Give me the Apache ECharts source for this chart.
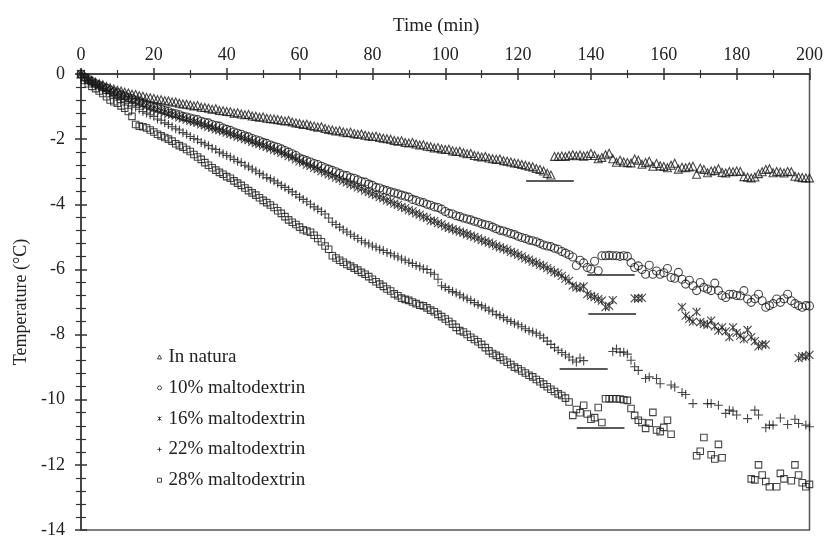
<!DOCTYPE html>
<html><head><meta charset="utf-8">
<script src="https://cdn.jsdelivr.net/npm/echarts@6/dist/echarts.min.js"></script>
<style>html,body{margin:0;padding:0;background:#fff}#c{width:826px;height:539px}</style>
</head><body><div id="c"></div>
<script>
const seriesNames = ['In natura','10% maltodextrin','16% maltodextrin','22% maltodextrin','28% maltodextrin'];

const time = [
0,1,2,3,4,5,6,7,8,9,10,11,12,13,14,15,16,17,18,19,
20,21,22,23,24,25,26,27,28,29,30,31,32,33,34,35,36,37,38,39,
40,41,42,43,44,45,46,47,48,49,50,51,52,53,54,55,56,57,58,59,
60,61,62,63,64,65,66,67,68,69,70,71,72,73,74,75,76,77,78,79,
80,81,82,83,84,85,86,87,88,89,90,91,92,93,94,95,96,97,98,99,
100,101,102,103,104,105,106,107,108,109,110,111,112,113,114,115,116,117,118,119,
120,121,122,123,124,125,126,127,128,129,130,131,132,133,134,135,136,137,138,139,
140,141,142,143,144,145,146,147,148,149,150,151,152,153,154,155,156,157,158,159,
160,161,162,163,164,165,166,167,168,169,170,171,172,173,174,175,176,177,178,179,
180,181,182,183,184,185,186,187,188,189,190,191,192,193,194,195,196,197,198,199,
200];

const inNatura = [
0,-0.08,-0.15,-0.2,-0.25,-0.3,-0.33,-0.38,-0.42,-0.46,
-0.5,-0.52,-0.56,-0.58,-0.62,-0.63,-0.67,-0.68,-0.72,-0.73,
-0.75,-0.78,-0.79,-0.82,-0.83,-0.86,-0.86,-0.9,-0.92,-0.93,
-0.95,-0.98,-0.97,-1.02,-1.03,-1.05,-1.08,-1.07,-1.12,-1.13,
-1.15,-1.16,-1.2,-1.19,-1.23,-1.25,-1.24,-1.29,-1.3,-1.33,
-1.32,-1.36,-1.37,-1.38,-1.4,-1.42,-1.44,-1.43,-1.47,-1.5,
-1.52,-1.55,-1.54,-1.58,-1.6,-1.63,-1.62,-1.67,-1.7,-1.72,
-1.75,-1.74,-1.78,-1.8,-1.79,-1.83,-1.85,-1.84,-1.88,-1.9,
-1.92,-1.91,-1.95,-1.97,-1.99,-2.0,-2.04,-2.06,-2.05,-2.1,
-2.12,-2.1,-2.15,-2.18,-2.17,-2.22,-2.23,-2.27,-2.26,-2.3,
-2.32,-2.31,-2.36,-2.38,-2.37,-2.42,-2.45,-2.44,-2.5,-2.52,
-2.55,-2.53,-2.58,-2.6,-2.62,-2.61,-2.66,-2.68,-2.7,-2.73,
-2.75,-2.78,-2.8,-2.83,-2.85,-2.9,-2.93,-2.98,-3.05,-3.1,
-2.53,-2.53,-2.52,-2.53,-2.5,-2.48,-2.51,-2.49,-2.52,-2.5,
-2.44,-2.5,-2.6,-2.56,-2.48,-2.43,-2.6,-2.71,-2.65,-2.7,
-2.72,-2.73,-2.61,-2.65,-2.77,-2.72,-2.68,-2.83,-2.75,-2.82,
-2.84,-2.88,-2.8,-2.74,-2.92,-2.86,-2.88,-2.85,-2.83,-3.08,
-2.89,-2.93,-3.03,-2.98,-2.96,-2.91,-3.02,-3.04,-2.99,-3.0,
-2.98,-2.99,-3.15,-3.17,-3.19,-3.16,-3.06,-3.0,-2.93,-2.91,
-3.03,-2.99,-3.01,-3.04,-2.99,-3.0,-3.14,-3.16,-3.18,-3.19,
-3.19];

const malto10 = [
0,-0.1,-0.17,-0.23,-0.3,-0.35,-0.4,-0.44,-0.5,-0.55,
-0.58,-0.64,-0.68,-0.72,-0.76,-0.8,-0.84,-0.88,-0.93,-0.98,
-1.02,-1.05,-1.08,-1.12,-1.15,-1.2,-1.22,-1.25,-1.3,-1.32,
-1.35,-1.38,-1.4,-1.45,-1.48,-1.5,-1.55,-1.58,-1.6,-1.66,
-1.7,-1.73,-1.78,-1.82,-1.85,-1.9,-1.93,-1.98,-2.02,-2.05,
-2.1,-2.13,-2.18,-2.22,-2.25,-2.3,-2.35,-2.4,-2.45,-2.5,
-2.58,-2.62,-2.66,-2.7,-2.75,-2.78,-2.83,-2.88,-2.92,-2.96,
-3.0,-3.05,-3.1,-3.12,-3.18,-3.2,-3.25,-3.3,-3.32,-3.38,
-3.42,-3.48,-3.5,-3.55,-3.58,-3.62,-3.65,-3.68,-3.72,-3.75,
-3.78,-3.85,-3.88,-3.92,-3.95,-4.0,-4.03,-4.08,-4.1,-4.15,
-4.22,-4.28,-4.3,-4.35,-4.38,-4.42,-4.45,-4.48,-4.52,-4.55,
-4.6,-4.63,-4.65,-4.7,-4.75,-4.8,-4.82,-4.86,-4.9,-4.93,
-4.98,-5.02,-5.05,-5.1,-5.12,-5.15,-5.2,-5.25,-5.28,-5.3,
-5.35,-5.38,-5.45,-5.5,-5.55,-5.62,-5.88,-5.72,-5.8,-5.94,
-5.99,-5.75,-6.04,-5.58,-5.58,-5.57,-5.58,-5.58,-5.6,-5.58,
-5.6,-5.79,-5.94,-5.89,-6.0,-6.15,-5.87,-6.15,-6.05,-6.15,
-6.1,-5.97,-6.25,-6.27,-6.09,-6.3,-6.45,-6.33,-6.5,-6.65,
-6.4,-6.55,-6.6,-6.65,-6.42,-6.65,-6.8,-6.86,-6.76,-6.76,
-6.8,-6.81,-6.65,-6.91,-7.01,-6.9,-6.76,-6.96,-7.16,-7.11,
-7.05,-6.91,-7.01,-6.9,-6.76,-6.96,-7.05,-7.11,-7.16,-7.11,
-7.12];

const malto16 = [
0,-0.1,-0.18,-0.25,-0.3,-0.36,-0.42,-0.46,-0.52,-0.57,
-0.62,-0.66,-0.7,-0.74,-0.8,-0.84,-0.88,-0.93,-0.97,-1.02,
-1.06,-1.1,-1.14,-1.18,-1.22,-1.25,-1.28,-1.33,-1.36,-1.4,
-1.44,-1.47,-1.5,-1.55,-1.58,-1.62,-1.65,-1.7,-1.72,-1.76,
-1.8,-1.84,-1.88,-1.92,-1.95,-2.0,-2.03,-2.08,-2.12,-2.15,
-2.2,-2.24,-2.28,-2.33,-2.37,-2.42,-2.46,-2.52,-2.56,-2.62,
-2.68,-2.72,-2.78,-2.82,-2.88,-2.92,-2.98,-3.03,-3.08,-3.12,
-3.18,-3.22,-3.28,-3.33,-3.38,-3.42,-3.48,-3.52,-3.58,-3.63,
-3.68,-3.72,-3.78,-3.82,-3.88,-3.92,-3.98,-4.02,-4.08,-4.12,
-4.18,-4.22,-4.28,-4.32,-4.38,-4.42,-4.5,-4.52,-4.58,-4.62,
-4.68,-4.72,-4.76,-4.8,-4.84,-4.88,-4.92,-4.96,-5.0,-5.05,
-5.1,-5.14,-5.18,-5.22,-5.28,-5.32,-5.36,-5.4,-5.46,-5.5,
-5.55,-5.6,-5.66,-5.7,-5.76,-5.8,-5.86,-5.9,-5.96,-6.02,
-6.08,-6.12,-6.2,-6.28,-6.35,-6.5,-6.55,-6.58,-6.52,-6.76,
-6.81,-6.85,-6.91,-6.96,-7.16,-7.12,-6.94,null,null,null,
null,null,-6.89,-6.89,-6.87,null,null,null,null,null,
null,null,null,null,null,-7.16,-7.42,-7.52,-7.6,-7.3,
-7.62,-7.67,-7.7,-7.57,-7.75,-7.88,-7.78,-7.9,-8.08,-7.78,
-7.95,-8.03,-8.14,-7.86,-8.08,-8.2,-8.36,-8.3,-8.31,null,
null,null,null,null,null,null,null,-8.72,-8.66,-8.68,
-8.62];

const malto22 = [
0,-0.1,-0.18,-0.25,-0.32,-0.38,-0.45,-0.52,-0.6,-0.66,
-0.72,-0.78,-0.85,-0.9,-0.98,-1.02,-1.08,-1.15,-1.2,-1.25,
-1.3,-1.38,-1.42,-1.5,-1.55,-1.62,-1.68,-1.72,-1.8,-1.85,
-1.92,-1.98,-2.02,-2.1,-2.15,-2.2,-2.28,-2.32,-2.4,-2.45,
-2.5,-2.55,-2.62,-2.68,-2.72,-2.8,-2.85,-2.92,-2.98,-3.05,
-3.1,-3.18,-3.22,-3.28,-3.35,-3.42,-3.48,-3.55,-3.62,-3.7,
-3.78,-3.85,-3.92,-4.0,-4.08,-4.15,-4.22,-4.3,-4.42,-4.55,
-4.62,-4.7,-4.78,-4.85,-4.92,-4.98,-5.05,-5.12,-5.18,-5.22,
-5.28,-5.32,-5.38,-5.42,-5.48,-5.52,-5.58,-5.62,-5.68,-5.72,
-5.78,-5.82,-5.88,-5.92,-5.98,-6.0,-6.1,-6.15,-6.3,-6.5,
-6.55,-6.62,-6.68,-6.72,-6.78,-6.85,-6.9,-6.95,-7.02,-7.08,
-7.12,-7.18,-7.25,-7.3,-7.38,-7.42,-7.48,-7.55,-7.6,-7.65,
-7.7,-7.76,-7.82,-7.88,-7.92,-7.96,-8.02,-8.1,-8.2,-8.3,
-8.4,-8.48,-8.55,-8.62,-8.69,-8.78,-8.84,-8.72,-8.8,null,
null,null,null,null,null,null,-8.52,-8.44,-8.54,-8.54,
-8.6,-8.79,-8.99,-9.1,null,-9.35,-9.3,null,-9.35,-9.51,
null,null,-9.55,-9.61,null,-9.78,-9.84,null,-10.12,null,
null,null,-10.12,-10.12,null,-10.17,null,-10.42,-10.32,-10.35,
-10.47,null,null,-10.58,null,-10.32,-10.47,null,-10.86,-10.78,
-10.78,null,-10.56,null,-10.76,null,-10.6,-10.73,null,-10.78,
-10.83];

const malto28 = [
0,-0.2,-0.3,-0.38,-0.45,-0.52,-0.6,-0.7,-0.8,-0.85,
-0.9,-0.98,-1.05,-1.15,-1.3,-1.55,-1.6,-1.62,-1.66,-1.72,
-1.78,-1.85,-1.9,-1.95,-2.0,-2.06,-2.14,-2.2,-2.25,-2.32,
-2.38,-2.47,-2.55,-2.62,-2.72,-2.8,-2.88,-2.95,-3.02,-3.08,
-3.15,-3.2,-3.28,-3.35,-3.42,-3.5,-3.58,-3.65,-3.72,-3.8,
-3.88,-3.95,-4.02,-4.1,-4.2,-4.28,-4.38,-4.48,-4.55,-4.62,
-4.7,-4.78,-4.82,-4.86,-4.95,-5.05,-5.15,-5.28,-5.38,-5.58,
-5.65,-5.72,-5.78,-5.85,-5.9,-5.96,-6.02,-6.09,-6.15,-6.22,
-6.3,-6.38,-6.45,-6.52,-6.6,-6.66,-6.75,-6.81,-6.88,-6.92,
-6.95,-7.0,-7.05,-7.1,-7.12,-7.18,-7.25,-7.3,-7.38,-7.45,
-7.52,-7.6,-7.68,-7.78,-7.88,-7.92,-8.0,-8.08,-8.15,-8.22,
-8.3,-8.4,-8.5,-8.58,-8.64,-8.7,-8.78,-8.85,-8.92,-9.0,
-9.05,-9.12,-9.18,-9.25,-9.3,-9.38,-9.45,-9.52,-9.6,-9.68,
-9.75,-9.82,-9.87,-9.95,-10.07,-10.48,-10.3,-10.4,-10.17,-10.44,
-10.6,-10.55,-10.24,-10.7,-9.97,-9.97,-9.97,-9.97,-9.98,-10.0,
-10.02,-10.27,-10.48,-10.63,-10.7,-10.88,-10.72,-10.39,-10.93,-10.98,
-10.85,-10.63,-11.06,null,null,null,null,null,null,-11.72,
-11.58,-11.16,null,-11.69,-11.82,-11.37,-11.78,null,null,null,
null,null,null,null,-12.43,-12.46,-12.0,-12.31,-12.51,-12.67,
null,-12.67,-12.26,-12.43,null,-12.49,-12.0,-12.31,-12.55,-12.67,
-12.6];

// reference segments drawn under each curve
const segStart = [122.2, 139.0, 139.3, 131.4, 136.1];
const segEnd   = [135.3, 152.0, 152.4, 144.6, 149.2];
const segLevel = [-3.29, -6.15, -7.35, -9.05, -10.87];

const allValues = [inNatura, malto10, malto16, malto22, malto28];
const symbols = [
  'triangle',
  'circle',
  'path://M0,0 L10,10 M10,0 L0,10 M5,0 L5,10',
  'path://M0,5 L10,5 M5,0 L5,10',
  'rect'
];
const symbolSizes = [8, 8, 8, 9, 6.5];

const FONT = 'Liberation Serif';
const INK = '#222';

function toPts(vals) {
  const out = [];
  vals.forEach((v, i) => { if (v !== null) out.push([time[i], v]); });
  return out;
}

const series = seriesNames.map((name, k) => ({
  name: name,
  type: 'scatter',
  xAxisIndex: 0,
  yAxisIndex: 0,
  symbol: symbols[k],
  symbolSize: symbolSizes[k],
  itemStyle: { color: 'transparent', borderColor: '#1a1a1a', borderWidth: 1.1 },
  emphasis: { disabled: true },
  data: toPts(allValues[k]),
  markLine: {
    silent: true,
    symbol: 'none',
    label: { show: false },
    lineStyle: { color: INK, width: 1.5, type: 'solid' },
    data: [[{ coord: [segStart[k], segLevel[k]] }, { coord: [segEnd[k], segLevel[k]] }]]
  }
}));

const tickLine = { color: '#333', width: 1.5 };
const minorLine = { color: '#333', width: 1.2 };

const chart = echarts.init(document.getElementById('c'), null, { renderer: 'canvas' });
chart.setOption({
  animation: false,
  backgroundColor: '#fff',
  grid: { left: 81, right: 15, top: 74, bottom: 7, show: true, borderColor: '#555', borderWidth: 1.5 },
  legend: {
    orient: 'vertical', left: 152, top: 342,
    itemWidth: 4, itemHeight: 4, itemGap: 10.8,
    itemStyle: { borderWidth: 1 },
    textStyle: { fontFamily: FONT, fontSize: 19, color: INK, lineHeight: 20, padding: [0, 0, 0, 2] },
    data: seriesNames
  },
  xAxis: [
    {
      type: 'value', position: 'top', min: 0, max: 200, interval: 20,
      name: 'Time (min)', nameLocation: 'middle', nameGap: 38,
      nameTextStyle: { fontFamily: FONT, fontSize: 19, color: INK, padding: [0, 18, 0, 0] },
      axisLine: { show: true, onZero: false, lineStyle: { color: '#333', width: 1.5 } },
      axisTick: { show: true, inside: false, length: 6, lineStyle: tickLine },
      minorTick: { show: true, splitNumber: 2, length: 4, lineStyle: minorLine },
      axisLabel: { fontFamily: FONT, fontSize: 18, color: INK, margin: 10 },
      splitLine: { show: false }
    },
    {
      type: 'value', position: 'top', min: 0, max: 200, interval: 20,
      axisLine: { show: false },
      axisTick: { show: true, inside: true, length: 6, lineStyle: tickLine },
      minorTick: { show: true, splitNumber: 2, length: 4, lineStyle: minorLine },
      axisLabel: { show: false },
      splitLine: { show: false }
    }
  ],
  yAxis: [
    {
      type: 'value', position: 'left', min: -14, max: 0, interval: 2,
      name: 'Temperature (°C)', nameLocation: 'middle', nameGap: 47,
      nameTextStyle: { fontFamily: FONT, fontSize: 18, color: INK },
      axisLine: { show: true, onZero: false, lineStyle: { color: '#333', width: 1.5 } },
      axisTick: { show: true, inside: false, length: 6, lineStyle: tickLine },
      minorTick: { show: true, splitNumber: 5, length: 5, lineStyle: minorLine },
      axisLabel: { fontFamily: FONT, fontSize: 18, color: INK, margin: 16 },
      splitLine: { show: false }
    },
    {
      type: 'value', position: 'left', min: -14, max: 0, interval: 2,
      axisLine: { show: false },
      axisTick: { show: true, inside: true, length: 6, lineStyle: tickLine },
      minorTick: { show: true, splitNumber: 5, length: 5, lineStyle: minorLine },
      axisLabel: { show: false },
      splitLine: { show: false }
    }
  ],
  series: series
});
</script>
</body></html>
